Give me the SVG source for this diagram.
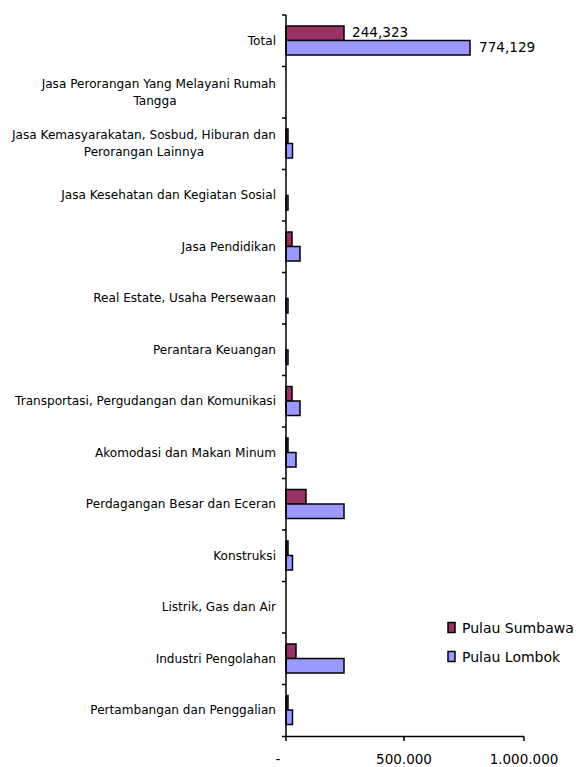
<svg xmlns="http://www.w3.org/2000/svg" width="576" height="767" viewBox="0 0 576 767">
<style>
text{font-family:"DejaVu Sans",Verdana,sans-serif;font-size:12.1px;fill:#000}
.r{text-anchor:end}
.m{text-anchor:middle}
.s{fill:#993366;stroke:#000;stroke-width:1.5}
.l{fill:#9999FF;stroke:#000;stroke-width:1.5}
.ax{stroke:#000;stroke-width:1.5;fill:none}
.v{font-size:13.6px}
.lg{font-size:14px}
.t{font-size:13.5px}
</style>
<rect width="576" height="767" fill="#fff"/>
<g id="labels">
<text class="r" x="276" y="45">Total</text>
<text class="r" x="276" y="88">Jasa Perorangan Yang Melayani Rumah</text>
<text class="m" x="155" y="105">Tangga</text>
<text class="r" x="276" y="139">Jasa Kemasyarakatan, Sosbud, Hiburan dan</text>
<text class="m" x="144" y="156">Perorangan Lainnya</text>
<text class="r" x="276" y="199">Jasa Kesehatan dan Kegiatan Sosial</text>
<text class="r" x="276" y="251">Jasa Pendidikan</text>
<text class="r" x="276" y="302">Real Estate, Usaha Persewaan</text>
<text class="r" x="276" y="354">Perantara Keuangan</text>
<text class="r" x="276" y="405">Transportasi, Pergudangan dan Komunikasi</text>
<text class="r" x="276" y="457">Akomodasi dan Makan Minum</text>
<text class="r" x="276" y="508">Perdagangan Besar dan Eceran</text>
<text class="r" x="276" y="560">Konstruksi</text>
<text class="r" x="276" y="611">Listrik, Gas dan Air</text>
<text class="r" x="276" y="663">Industri Pengolahan</text>
<text class="r" x="276" y="714">Pertambangan dan Penggalian</text>
</g>
<g id="bars">
<rect class="s" x="286" y="26" width="58" height="14.5"/>
<rect class="l" x="286" y="40.5" width="184" height="14.5"/>
<rect class="s" x="286" y="129" width="2" height="14.5"/>
<rect class="l" x="286" y="143.5" width="6.5" height="14.5"/>
<rect class="l" x="286" y="195.5" width="2" height="14.5"/>
<rect class="s" x="286" y="232" width="6" height="14.5"/>
<rect class="l" x="286" y="246.5" width="14" height="14.5"/>
<rect class="l" x="286" y="298.5" width="2" height="14.5"/>
<rect class="l" x="286" y="350" width="2" height="14.5"/>
<rect class="s" x="286" y="386.5" width="6" height="14.5"/>
<rect class="l" x="286" y="401" width="14" height="14.5"/>
<rect class="s" x="286" y="438" width="2" height="14.5"/>
<rect class="l" x="286" y="452.5" width="10" height="14.5"/>
<rect class="s" x="286" y="489.5" width="20" height="14.5"/>
<rect class="l" x="286" y="504" width="58" height="14.5"/>
<rect class="s" x="286" y="541" width="2" height="14.5"/>
<rect class="l" x="286" y="555.5" width="6.5" height="14.5"/>
<rect class="s" x="286" y="644" width="10" height="14.5"/>
<rect class="l" x="286" y="658.5" width="58" height="14.5"/>
<rect class="s" x="286" y="695.5" width="2" height="14.5"/>
<rect class="l" x="286" y="710" width="6.5" height="14.5"/>
</g>
<g id="axes">
<path class="ax" d="M286 15V736.5M282 15H286M282 66.5H286M282 118H286M282 169.5H286M282 221H286M282 272.5H286M282 324H286M282 375.5H286M282 427H286M282 478.5H286M282 530H286M282 581.5H286M282 633H286M282 684.5H286M282 736.5H524M286 736.5V741M404 736.5V741M524 736.5V741"/>
<text class="m t" x="278" y="764">-</text>
<text class="m t" x="404" y="764">500.000</text>
<text class="m t" x="524" y="764">1.000.000</text>
</g>
<g id="values">
<text class="v" x="352" y="37">244,323</text>
<text class="v" x="479" y="52">774,129</text>
</g>
<g id="legend">
<rect class="s" x="448" y="622.5" width="7" height="10"/>
<text class="lg" x="462" y="633">Pulau Sumbawa</text>
<rect class="l" x="448" y="651.5" width="7" height="10"/>
<text class="lg" x="462" y="662">Pulau Lombok</text>
</g>
</svg>
